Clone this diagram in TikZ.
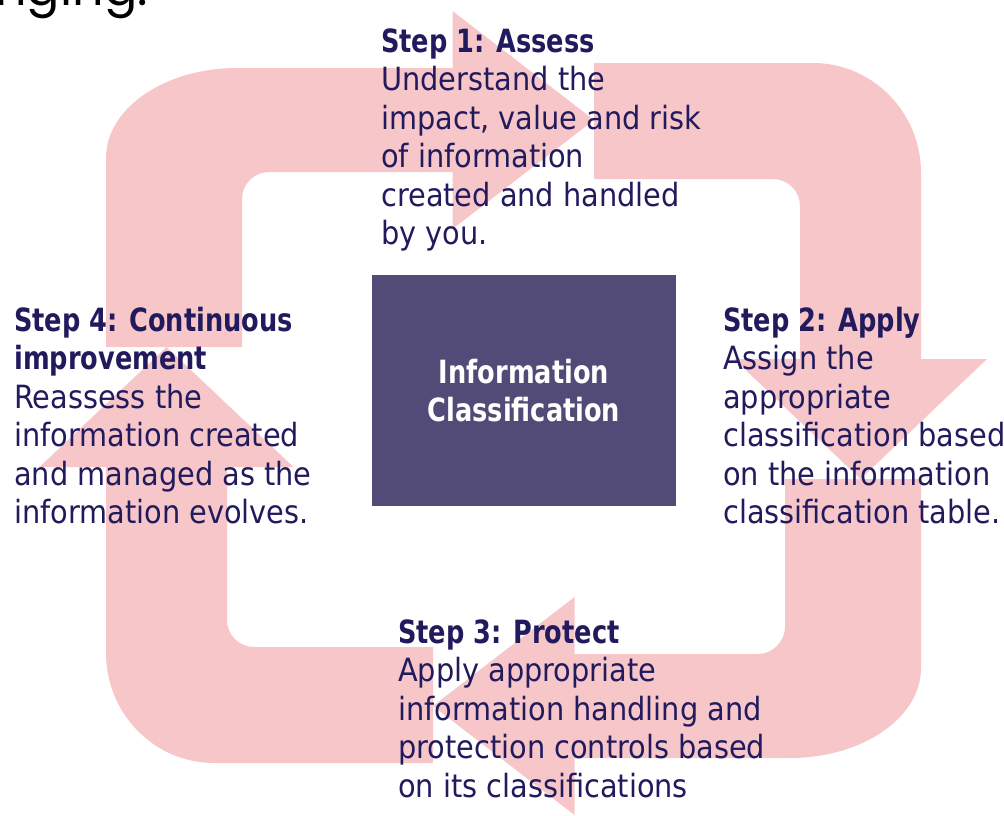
\documentclass[tikz,border=0pt]{standalone}
\usepackage{fontspec}
\newfontfamily\bodyfont{DejaVu Sans Condensed}[BoldFont={DejaVu Sans Condensed Bold},BoldFeatures={FakeStretch=0.89}]
\newfontfamily\titlefont{Poppins}

\definecolor{arrowpink}{RGB}{247,198,201}
\definecolor{hubpurple}{RGB}{82,75,120}
\definecolor{stepnavy}{RGB}{33,27,94}

\tikzset{
  loop arrow/.style={fill=arrowpink, draw=none},
  step text/.style={anchor=base west, inner sep=0pt, text=stepnavy,
    font=\bodyfont\fontsize{24}{28.9}\selectfont},
  hub/.style={fill=hubpurple, draw=none, inner sep=0pt,
    minimum width=228pt, minimum height=173.25pt,
    text=white, align=center,
    font=\bodyfont\bfseries\fontsize{24}{29}\selectfont},
}

\begin{document}
\begin{tikzpicture}[x=0.75pt,y=-0.75pt]
\useasboundingbox (0,0) rectangle (1004,815);

% heading fragment running off the top edge
\node[anchor=base east, inner sep=0pt, font=\titlefont\fontsize{37}{44}\selectfont]
  (heading) at (148,5) {nging.};

% four bent arrows forming the cycle
% step 1: up the left side, then right along the top
\fill[loop arrow] (106,347) -- (106,158)
  .. controls (106,108.3) and (164.7,68) .. (237,68)
  -- (452.5,68) -- (452.5,11) -- (594,120) -- (452.5,229) -- (452.5,172)
  -- (269,172) .. controls (254.1,172) and (242,184.1) .. (242,199)
  -- (242,347) -- cycle;
% step 2: right along the top, then down the right side
\fill[loop arrow] (594,63) -- (813,63)
  .. controls (872.6,63) and (921,112.25) .. (921,173)
  -- (921,359) -- (987,359) -- (860.5,479) -- (734,359) -- (800,359)
  -- (800,206) .. controls (800,191.1) and (787.9,179) .. (773,179)
  -- (594,179) -- cycle;
% step 3: down the right side, then left along the bottom
\fill[loop arrow] (785,479) -- (921,479) -- (921,668)
  .. controls (921,717.7) and (862.35,758) .. (790,758)
  -- (574.5,758) -- (574.5,815) -- (433,706) -- (574.5,597) -- (574.5,654)
  -- (758,654) .. controls (772.9,654) and (785,641.1) .. (785,627) -- cycle;
% step 4: left along the bottom, then up the left side
\fill[loop arrow] (433,763) -- (214,763)
  .. controls (154.4,763) and (106,713.75) .. (106,653)
  -- (106,467) -- (39.5,467) -- (166.5,347) -- (293.5,467) -- (227,467)
  -- (227,620) .. controls (227,634.9) and (239.1,647) .. (254,647)
  -- (433,647) -- cycle;

% central box
\node[hub] (hub) at (524,390.5) {Information\\Classification};

% step descriptions
\node[step text] (assess) at (381,52) {\begin{tabular}[t]{@{}l@{}}
  \textbf{Step 1: Assess}\\
  Understand the\\
  impact, value and risk\\
  of information\\
  created and handled\\
  by you.\end{tabular}};
\node[step text] (apply) at (723,331) {\begin{tabular}[t]{@{}l@{}}
  \textbf{Step 2: Apply}\\
  Assign the\\
  appropriate\\
  classification based\\
  on the information\\
  classification table.\end{tabular}};
\node[step text] (protect) at (398,643) {\begin{tabular}[t]{@{}l@{}}
  \textbf{Step 3: Protect}\\
  Apply appropriate\\
  information handling and\\
  protection controls based\\
  on its classifications\end{tabular}};
\node[step text] (improve) at (14,331) {\begin{tabular}[t]{@{}l@{}}
  \textbf{Step 4: Continuous}\\
  \textbf{improvement}\\
  Reassess the\\
  information created\\
  and managed as the\\
  information evolves.\end{tabular}};
\end{tikzpicture}
\end{document}
